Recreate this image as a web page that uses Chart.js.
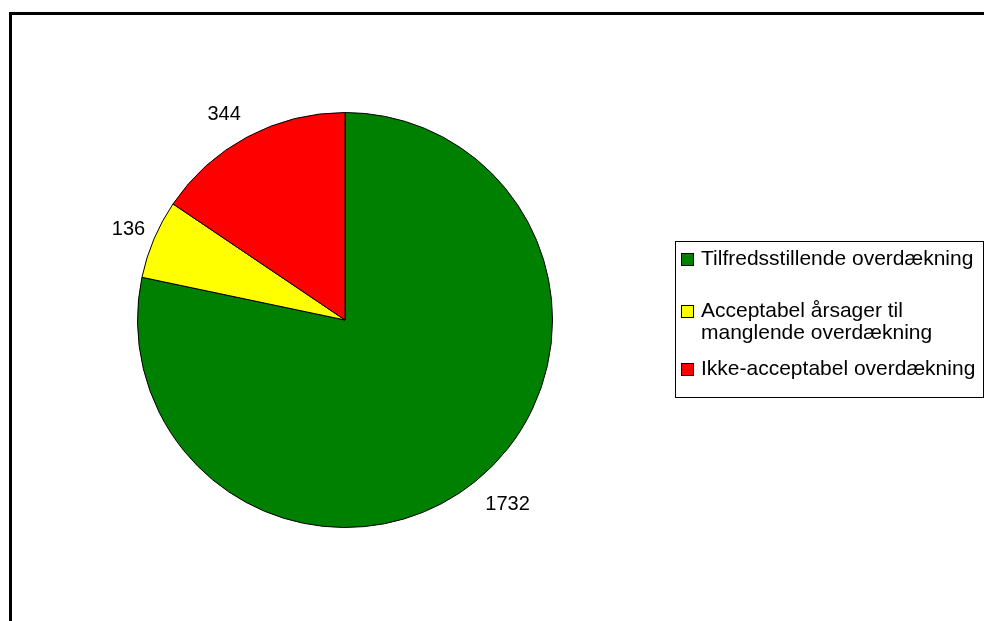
<!DOCTYPE html>
<html>
<head>
<meta charset="utf-8">
<script src="https://cdn.jsdelivr.net/npm/chart.js@4"></script>
<style>
  body { margin: 0; background: #fff; font-family: 'Liberation Sans', Arial, sans-serif; }
  #wrap { position: relative; width: 984px; height: 621px; overflow: hidden; }
  #frame { position: absolute; left: 9px; top: 12px; width: 980px; height: 620px;
           border-left: 3px solid #000; border-top: 3px solid #000; }
  canvas { position: absolute; left: 0; top: 0; }
  #legend { position: absolute; left: 675px; top: 241px; width: 309px; height: 157px;
            border: 1px solid #000; box-sizing: border-box; font-size: 21px; color: #000; }
  .item { position: absolute; left: 5px; display: flex; align-items: flex-start; line-height: 22px; }
  .sw { width: 11px; height: 11px; border: 1px solid #000; margin-top: 6px; margin-right: 7px; flex: none; }
</style>
</head>
<body>
<div id="wrap">
  <div id="frame"></div>
  <canvas id="c" width="984" height="621"></canvas>
  <div id="legend"></div>
</div>
<script>
const categories = ['Tilfredsstillende overdækning', 'Acceptabel årsager til manglende overdækning', 'Ikke-acceptabel overdækning'];
const legendLines = [['Tilfredsstillende overdækning'], ['Acceptabel årsager til', 'manglende overdækning'], ['Ikke-acceptabel overdækning']];
const values = [1732, 136, 344];
const colors = ['#008000', '#FFFF00', '#FF0000'];
// small nudges so the value labels sit where the original put them
const labelNudge = [[11, -2], [5, 3], [-8, 7]];

// legend
const legend = document.getElementById('legend');
const tops = [5, 57, 115];
legendLines.forEach((lines, i) => {
  const item = document.createElement('div');
  item.className = 'item';
  item.style.top = tops[i] + 'px';
  item.innerHTML = '<span class="sw" style="background:' + colors[i] + '"></span><span>' + lines.join('<br>') + '</span>';
  legend.appendChild(item);
});

const outLabels = {
  id: 'outLabels',
  afterDatasetsDraw(chart) {
    const ctx = chart.ctx;
    const meta = chart.getDatasetMeta(0);
    ctx.save();
    ctx.font = '20px "Liberation Sans", Arial, sans-serif';
    ctx.fillStyle = '#000';
    ctx.textAlign = 'center';
    ctx.textBaseline = 'middle';
    meta.data.forEach((arc, i) => {
      const mid = (arc.startAngle + arc.endAngle) / 2;
      const r = arc.outerRadius + 33;
      ctx.fillText(String(values[i]),
        arc.x + Math.cos(mid) * r + labelNudge[i][0],
        arc.y + Math.sin(mid) * r + labelNudge[i][1]);
    });
    ctx.restore();
  }
};

new Chart(document.getElementById('c'), {
  type: 'pie',
  data: {
    labels: categories,
    datasets: [{
      data: values,
      backgroundColor: colors,
      borderColor: '#000',
      borderWidth: 1
    }]
  },
  options: {
    responsive: false,
    animation: false,
    layout: { padding: { left: 137, right: 431, top: 112, bottom: 93 } },
    plugins: { legend: { display: false }, tooltip: { enabled: false } }
  },
  plugins: [outLabels]
});
</script>
</body>
</html>
